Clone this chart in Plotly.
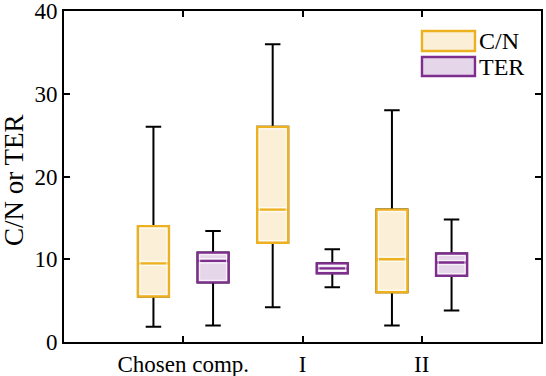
import plotly.graph_objects as go

categories = ["Chosen comp.", "I", "II"]
positions = [1, 2, 3]

cn_low = [1.85, 4.2, 2.0]
cn_q1 = [5.5, 12.0, 6.0]
cn_med = [9.5, 16.0, 10.0]
cn_q3 = [14.0, 26.0, 16.0]
cn_high = [26.0, 36.0, 28.0]

ter_low = [2.0, 6.6, 3.8]
ter_q1 = [7.2, 8.3, 8.0]
ter_med = [9.8, 8.9, 9.6]
ter_q3 = [10.8, 9.5, 10.7]
ter_high = [13.4, 11.2, 14.8]

y_ticks = [0, 10, 20, 30, 40]

CN_EDGE = "#EDB120"
CN_FILL = "#FBF0D7"
TER_EDGE = "#7E2F8E"
TER_FILL = "#E6D6E9"
FONT = "Liberation Serif"

offset = 0.25
bw = 0.26

series = [
    ("C/N", -offset, cn_low, cn_q1, cn_med, cn_q3, cn_high, CN_EDGE, CN_FILL),
    ("TER", offset, ter_low, ter_q1, ter_med, ter_q3, ter_high, TER_EDGE, TER_FILL),
]

fig = go.Figure()
shapes = []
dx = 2.1 / 119.25
dy = 2.1 / 8.275
dm = 2.2 / 8.275
for name, off, lo, q1, med, q3, hi, edge, fill in series:
    xs = [p + off for p in positions]
    # whiskers (black)
    fig.add_trace(go.Box(
        x=xs, q1=q1, median=med, q3=q3, lowerfence=lo, upperfence=hi,
        width=bw, whiskerwidth=0.5, line=dict(color="black", width=2),
        fillcolor="rgba(0,0,0,0)", showlegend=False, hoverinfo="skip",
        boxpoints=False,
    ))
    # colored box
    fig.add_trace(go.Box(
        x=xs, q1=q1, median=med, q3=q3, lowerfence=q1, upperfence=q3,
        width=bw, whiskerwidth=0, line=dict(color=edge, width=2.4),
        fillcolor=fill, name=name, showlegend=False, boxpoints=False,
    ))
    for x, a, m, b in zip(xs, q1, med, q3):
        shapes.append(dict(type="rect", xref="x", yref="y",
                           x0=x - bw / 2 + dx, x1=x + bw / 2 - dx,
                           y0=a + dy, y1=b - dy,
                           line=dict(color="white", width=0.8), layer="above"))
        for s in (-1, 1):
            shapes.append(dict(type="line", xref="x", yref="y",
                               x0=x - bw / 2 + dx, x1=x + bw / 2 - dx,
                               y0=m + s * dm, y1=m + s * dm,
                               line=dict(color="white", width=0.8), layer="above"))

# legend drawn manually
legend_items = [("C/N", CN_EDGE, CN_FILL, 0.9396, 0.879),
                ("TER", TER_EDGE, TER_FILL, 0.861, 0.8036)]
annotations = []
for label, edge, fill, y1, y0 in legend_items:
    shapes.append(dict(type="rect", xref="paper", yref="paper",
                       x0=0.7505, x1=0.8616, y0=y0, y1=y1,
                       fillcolor=fill, line=dict(color=edge, width=2.4)))
    annotations.append(dict(xref="paper", yref="paper", x=0.866, y=(y0 + y1) / 2,
                            text=label, showarrow=False, xanchor="left", yanchor="middle",
                            font=dict(family=FONT, size=24, color="black")))

# y-axis title as rotated annotation
annotations.append(dict(xref="paper", yref="paper", x=-0.105, y=0.489,
                        text="C/N or TER", textangle=-90, showarrow=False,
                        xanchor="center", yanchor="middle",
                        font=dict(family=FONT, size=27, color="black")))

axis_common = dict(showline=True, linewidth=2, linecolor="black", mirror="ticks",
                   ticks="inside", ticklen=6, tickwidth=2, tickcolor="black",
                   showgrid=False, zeroline=False, ticklabeloverflow="allow",
                   tickfont=dict(family=FONT, size=23, color="black"))

fig.update_layout(
    width=546, height=376,
    margin=dict(l=64, r=5, t=11, b=34, autoexpand=False),
    paper_bgcolor="white", plot_bgcolor="white",
    boxmode="overlay",
    shapes=shapes, annotations=annotations,
    xaxis=dict(range=[0, 4], tickvals=positions, ticktext=categories, automargin=False, **axis_common),
    yaxis=dict(range=[-0.005, 40.005], tickvals=y_ticks, automargin=False, **axis_common),
    showlegend=False,
)

fig.write_html("out.html", config={"displayModeBar": False})
with open("out.html", encoding="utf-8") as f:
    html = f.read()
html = html.replace("<head>", "<head><style>html,body{margin:0;padding:0;overflow:hidden;}</style>", 1)
with open("out.html", "w", encoding="utf-8") as f:
    f.write(html)
